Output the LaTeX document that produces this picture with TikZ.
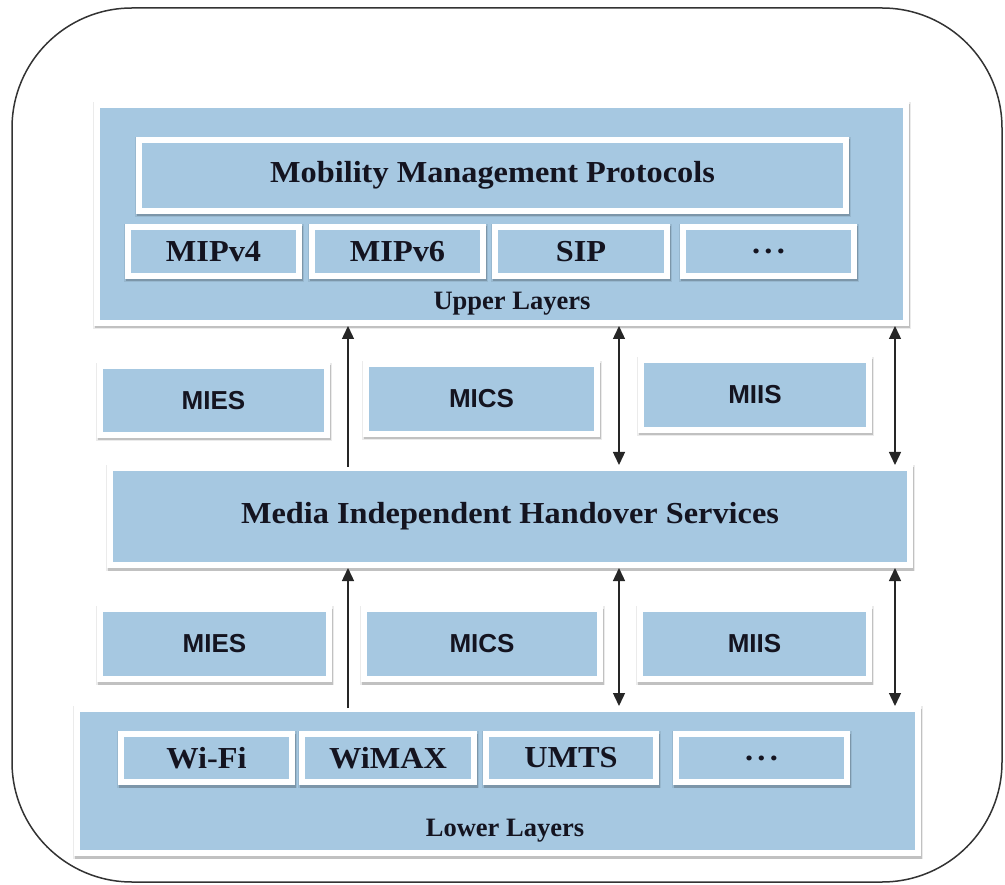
\documentclass[tikz,border=0pt]{standalone}
\usepackage{fontspec}
\setmainfont{Liberation Serif}
\setsansfont{Liberation Sans}
\newfontfamily\wideserif[FakeStretch=1.06]{Liberation Serif}
\usetikzlibrary{arrows.meta}
\definecolor{boxblue}{HTML}{A6C8E1}
\definecolor{txt}{HTML}{141420}
\tikzset{
  wbox/.style={rectangle, draw=none, fill=white, inner sep=0pt, outer sep=0pt},
  shbox/.style={rectangle, draw=none, fill=black, inner sep=0pt, outer sep=0pt},
  bfill/.style={rectangle, fill=boxblue, inner sep=0pt, outer sep=0pt, text=txt},
  serifbig/.style={font=\wideserif\fontsize{30.5}{34}\selectfont\bfseries},
  seriflab/.style={font=\fontsize{26.5}{30}\selectfont\bfseries, text=txt},
  sanslab/.style={font=\fontsize{26}{30}\selectfont\sffamily\bfseries},
  conn/.style={line width=1.4pt, draw=black!85},
  tip/.style={-{Triangle[width=12pt,length=13pt]}},
  dtip/.style={{Triangle[width=12pt,length=13pt]}-{Triangle[width=12pt,length=13pt]}},
}
% #1 name, #2 x, #3 y, #4 width, #5 height, #6 text style, #7 text
\newcommand\layerbox[7]{%
  \node[shbox, opacity=0.08, minimum width=#4pt+3pt, minimum height=#5pt+3pt] (#1-sha) at (#2+0.8,#3+1.5) {};
  \node[shbox, opacity=0.18, minimum width=#4pt, minimum height=#5pt] (#1-shb) at (#2+1,#3+2.5) {};
  \node[wbox, minimum width=#4pt, minimum height=#5pt] (#1) at (#2,#3) {};
  \node[bfill, #6, minimum width=#4pt-12pt, minimum height=#5pt-12pt] (#1-in) at (#1.center) {#7};
}
\newcommand\dotsx{.\kern0.14em.\kern0.14em.}
\begin{document}
\begin{tikzpicture}[x=1pt,y=-1pt]
\useasboundingbox (0,0) rectangle (1005,885);
\draw[line width=1.5pt, black!80, rounded corners=120pt] (12,8) rectangle (1002,882);

% Upper layers
\layerbox{up}{501.5}{214}{815}{224}{}{}
\layerbox{mmp}{492.5}{175.5}{713}{77}{serifbig}{Mobility Management Protocols}
\layerbox{mip4}{213.5}{251.5}{177}{55}{serifbig}{MIPv4}
\layerbox{mip6}{397.5}{251.5}{177}{55}{serifbig}{MIPv6}
\layerbox{sip}{581}{251.5}{178}{55}{serifbig}{SIP}
\layerbox{udots}{768.5}{251.5}{177}{55}{serifbig}{\dotsx}
\node[seriflab] (uplab) at (512,304) {Upper Layers};

% services between upper layers and MIHS
\layerbox{mies1}{213.5}{400.5}{233}{75}{sanslab}{MIES}
\layerbox{mics1}{481.5}{399}{237}{76}{sanslab}{MICS}
\layerbox{miis1}{755}{395}{234}{76}{sanslab}{MIIS}

% MIHS
\layerbox{mihs}{510}{516.5}{806}{103}{serifbig}{Media Independent Handover Services}

% services between MIHS and lower layers
\layerbox{mies2}{214.5}{644}{235}{76}{sanslab}{MIES}
\layerbox{mics2}{482}{644}{242}{76}{sanslab}{MICS}
\layerbox{miis2}{754.5}{644}{235}{76}{sanslab}{MIIS}

% Lower layers
\layerbox{low}{497.5}{781}{847}{150}{}{}
\layerbox{wifi}{206.5}{758}{177}{54}{serifbig}{Wi-Fi}
\layerbox{wimax}{388}{758}{178}{54}{serifbig}{WiMAX}
\layerbox{umts}{571}{758}{176}{54}{serifbig}{UMTS}
\layerbox{ldots}{761.5}{758}{177}{54}{serifbig}{\dotsx}
\node[seriflab] (lowlab) at (505,831) {Lower Layers};

% arrows
\coordinate (ax1) at (348,0);
\coordinate (ax2) at (619,0);
\coordinate (ax3) at (895,0);
\draw[conn, tip] ([yshift=-2pt]mihs.north -| ax1) -- (up.south -| ax1);
\draw[conn, dtip] (mihs.north -| ax2) -- (up.south -| ax2);
\draw[conn, dtip] (mihs.north -| ax3) -- (up.south -| ax3);
\draw[conn, tip] ([yshift=-2pt]low.north -| ax1) -- (mihs.south -| ax1);
\draw[conn, dtip] (low.north -| ax2) -- (mihs.south -| ax2);
\draw[conn, dtip] (low.north -| ax3) -- (mihs.south -| ax3);
\end{tikzpicture}
\end{document}
